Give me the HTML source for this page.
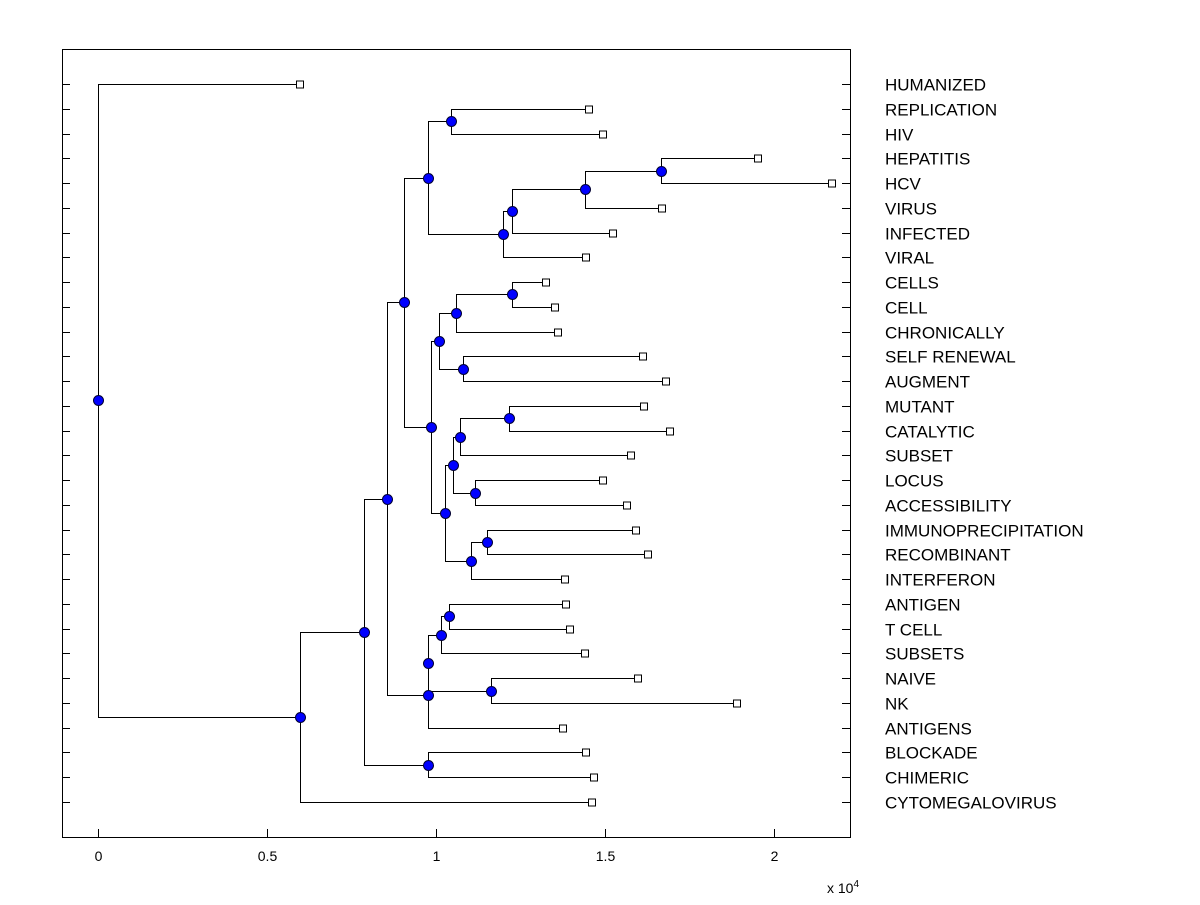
<!DOCTYPE html>
<html><head><meta charset="utf-8"><style>
html,body{margin:0;padding:0;background:#fff;}
svg text{font-family:"Liberation Sans",Arial,sans-serif;}
</style></head><body>
<svg id="chart" width="1200" height="900" xmlns="http://www.w3.org/2000/svg"></svg>
<script>
// Leaf labels (top to bottom) and leaf heights (x, in units of 1e4)
const leafNames = ["HUMANIZED","REPLICATION","HIV","HEPATITIS","HCV","VIRUS","INFECTED","VIRAL","CELLS","CELL","CHRONICALLY","SELF RENEWAL","AUGMENT","MUTANT","CATALYTIC","SUBSET","LOCUS","ACCESSIBILITY","IMMUNOPRECIPITATION","RECOMBINANT","INTERFERON","ANTIGEN","T CELL","SUBSETS","NAIVE","NK","ANTIGENS","BLOCKADE","CHIMERIC","CYTOMEGALOVIRUS"];
const leafValues = [0.598,1.453,1.494,1.953,2.172,1.669,1.524,1.444,1.325,1.352,1.361,1.612,1.680,1.615,1.692,1.577,1.494,1.565,1.592,1.627,1.382,1.385,1.396,1.441,1.598,1.891,1.376,1.444,1.467,1.462];
// Internal nodes: names, heights, children (leaf index number or node name)
const nodeNames =   ["Q","P","O","N","M","K","V","T","U","R","AA","Y","Z","W","AB","X","S","L","E","J","H","I","G","F","C","D","B","A","root"];
const nodeValues =  [1.666,1.441,1.225,1.198,1.044,0.976,1.225,1.059,1.080,1.009,1.216,1.071,1.115,1.050,1.151,1.104,1.027,0.985,0.905,1.038,1.015,1.163,0.976,0.976,0.855,0.976,0.787,0.598,0.0];
const nodeChildren = [[3,4],["Q",5],["P",6],["O",7],[1,2],["M","N"],[8,9],["V",10],[11,12],["T","U"],[13,14],["AA",15],[16,17],["Y","Z"],[18,19],["AB",20],["W","X"],["R","S"],["K","L"],[21,22],["J",23],[24,25],["H","I"],["G",26],["E","F"],[27,28],["C","D"],["B",29],[0,"A"]];
const xTicks = [0,0.5,1,1.5,2];
const xTickLabels = ["0","0.5","1","1.5","2"];

const svg = document.getElementById('chart');
const NS = "http://www.w3.org/2000/svg";
const ax = {l:62, r:850, t:49, b:837};
const xs = v => 98 + v*338;
const ys = i => 84 + i*(802-84)/29;
function mk(tag, attrs, parent){ const e=document.createElementNS(NS,tag); for(const k in attrs) e.setAttribute(k,attrs[k]); (parent||svg).appendChild(e); return e; }

const frame = mk('rect',{x:ax.l+0.5,y:ax.t+0.5,width:ax.r-ax.l,height:ax.b-ax.t,fill:'#fff',stroke:'#000','stroke-width':1});



xTicks.forEach((t,i)=>{
  const x = Math.round(xs(t))+0.5;
  const tk = mk('line',{x1:x,x2:x,y1:ax.b,y2:ax.b-8,stroke:'#000'});
  
  
  const tl = mk('text',{x:x,y:861,'font-size':14,'text-anchor':'middle',fill:'#000'});
  tl.textContent = xTickLabels[i];
  
  
});
const ex = mk('text',{x:827,y:893,'font-size':14,fill:'#000'});
ex.innerHTML = 'x 10<tspan dy="-6" font-size="10">4</tspan>';



leafNames.forEach((n,i)=>{
  const y = Math.round(ys(i))+0.5;
  const t1 = mk('line',{x1:ax.l,x2:ax.l+8,y1:y,y2:y,stroke:'#000'});
  
  
  const t2 = mk('line',{x1:ax.r-8,x2:ax.r,y1:y,y2:y,stroke:'#000'});
  
  
  const lb = mk('text',{x:885,y:y+6,'font-size':17,fill:'#000'});
  lb.textContent = n;
  
  
});

const idx = {}; nodeNames.forEach((n,i)=>idx[n]=i);
function pos(c){
  if(typeof c === 'number') return {x:xs(leafValues[c]), y:ys(c)};
  const i = idx[c]; const ch = nodeChildren[i].map(pos);
  return {x:xs(nodeValues[i]), y:(ch[0].y+ch[1].y)/2};
}
const links = mk('g',{});


const marks = [];
nodeNames.forEach((n,i)=>{
  const p = pos(n);
  const ch = nodeChildren[i].map(pos);
  const px = Math.round(p.x)+0.5;
  const pl = mk('polyline',{points:`${Math.round(ch[0].x)},${Math.round(ch[0].y)+0.5} ${px},${Math.round(ch[0].y)+0.5} ${px},${Math.round(ch[1].y)+0.5} ${Math.round(ch[1].x)},${Math.round(ch[1].y)+0.5}`,fill:'none',stroke:'#000','stroke-width':1},links);
  
  
  marks.push(p);
});
leafNames.forEach((n,i)=>{
  const p = pos(i);
  const r = mk('rect',{x:Math.round(p.x)-3.5,y:Math.round(p.y)-3,width:7,height:7,fill:'#fff',stroke:'#000'});
  
  
});
marks.forEach(p=>{
  const c = mk('circle',{cx:Math.round(p.x)+0.5,cy:Math.round(p.y)+0.5,r:5,fill:'#0000ff',stroke:'#000033','stroke-width':1});
  
  
});
</script>
</body></html>
